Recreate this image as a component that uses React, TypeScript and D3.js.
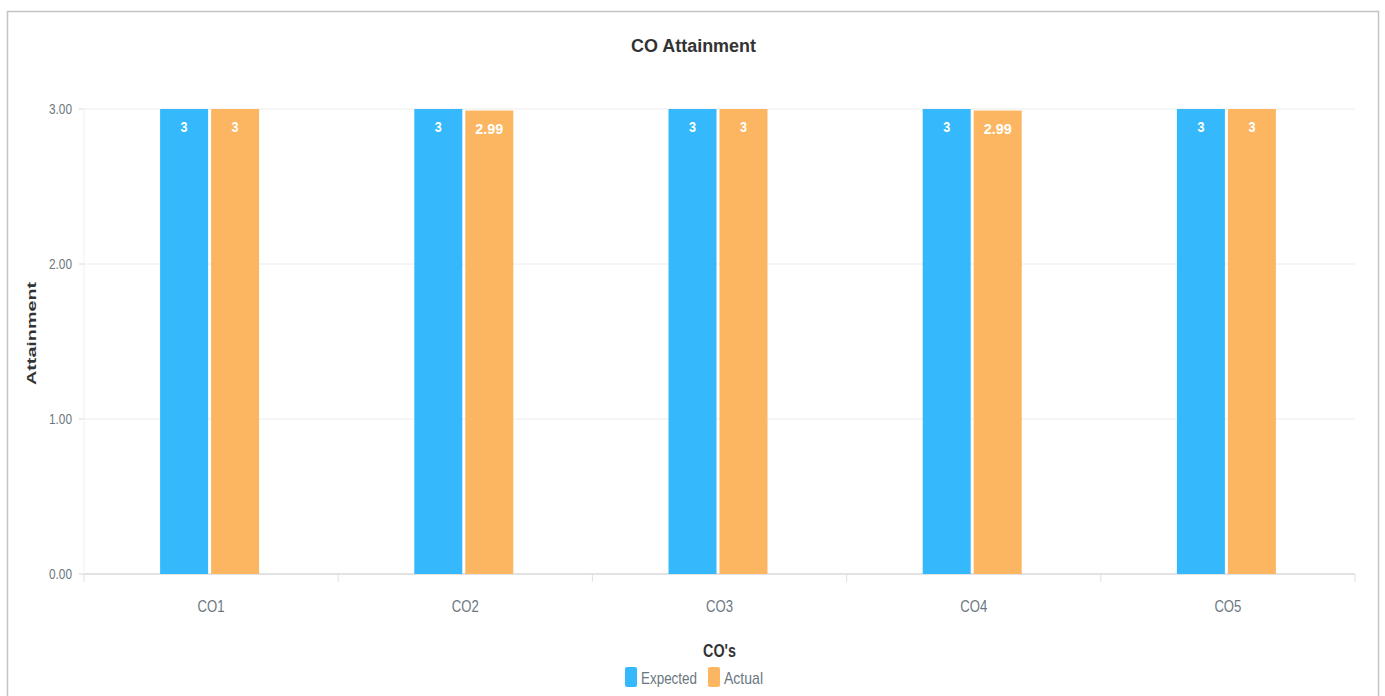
import React from "react";
import * as d3 from "d3";

const categories = ["CO1", "CO2", "CO3", "CO4", "CO5"];
const expected = [3, 3, 3, 3, 3];
const actual = [3, 2.99, 3, 2.99, 3];
const yTicks = [0, 1, 2, 3];
const seriesNames = ["Expected", "Actual"];
const seriesColors = ["#36b9fc", "#fcb661"];

const W = 1385, H = 696;
const L = 84, R = 1355, T = 109, B = 574;
const FONT = "'Liberation Sans', Arial, sans-serif";

export default function App() {
  const x = d3.scaleBand<string>().domain(categories).range([L, R]).paddingInner(0).paddingOuter(0);
  const y = d3.scaleLinear().domain([0, 3]).range([B, T]);
  const bw = 48;
  const gap = 3;
  const series = [expected, actual];
  const labelLen = (s: string) => (s.length === 1 ? 7 : 28);
  return (
    <svg width={W} height={H} style={{ position: "absolute", left: 0, top: 0, background: "#fff" }}>
      <rect x={7.5} y={11.5} width={1371} height={700} fill="#fff" stroke="#c4c4c4" strokeWidth={1.5} />
      <text x={631} y={52} textLength={125} lengthAdjust="spacingAndGlyphs" fontFamily={FONT} fontSize={18} fontWeight="bold" fill="#333">CO Attainment</text>
      {yTicks.map((t) => (
        <g key={t}>
          <line x1={L} x2={R} y1={y(t)} y2={y(t)} stroke={t === 0 ? "#d8d8d8" : "#ececec"} strokeWidth={t === 0 ? 1.5 : 1} />
          <line x1={L - 5} x2={L} y1={y(t)} y2={y(t)} stroke="#d8d8d8" />
          <text x={49} y={y(t) + 5} textLength={23} lengthAdjust="spacingAndGlyphs" fontFamily={FONT} fontSize={14} fill="#6b7780">{t.toFixed(2)}</text>
        </g>
      ))}
      <line x1={L} x2={L} y1={T} y2={B} stroke="#f0f0f0" />
      {categories.map((c, i) => {
        const cx = (x(c) as number) + x.bandwidth() / 2 - 1.5;
        return (
          <g key={c}>
            {series.map((s, k) => {
              const bx = k === 0 ? cx - gap / 2 - bw : cx + gap / 2;
              const v = s[i];
              const lbl = String(v);
              const len = labelLen(lbl);
              return (
                <g key={k}>
                  <rect x={bx} y={y(v)} width={bw} height={B - y(v)} fill={seriesColors[k]} />
                  <text x={bx + bw / 2 - len / 2} y={y(v) + 23} textLength={len} lengthAdjust="spacingAndGlyphs" fontFamily={FONT} fontSize={15} fontWeight="bold" fill="#fff">{lbl}</text>
                </g>
              );
            })}
            <text x={cx + 1.5 - 13.5} y={612} textLength={27} lengthAdjust="spacingAndGlyphs" fontFamily={FONT} fontSize={16} fill="#6b7780">{c}</text>
          </g>
        );
      })}
      {[...categories.map((c) => x(c) as number), R].map((px, i) => (
        <line key={i} x1={px} x2={px} y1={B} y2={B + 8} stroke="#e0e0e0" />
      ))}
      <text x={36} y={385} transform="rotate(-90 36 385)" textLength={103} lengthAdjust="spacingAndGlyphs" fontFamily={FONT} fontSize={13} fontWeight="bold" fill="#333">Attainment</text>
      <text x={703} y={657} textLength={33} lengthAdjust="spacingAndGlyphs" fontFamily={FONT} fontSize={18} fontWeight="bold" fill="#333">CO's</text>
      {seriesNames.map((n, k) => {
        const lx = k === 0 ? 625 : 708;
        const tl = k === 0 ? 56 : 39;
        return (
          <g key={n}>
            <rect x={lx} y={667} width={12} height={20} rx={2} fill={seriesColors[k]} />
            <text x={lx + 16} y={684} textLength={tl} lengthAdjust="spacingAndGlyphs" fontFamily={FONT} fontSize={17} fill="#6b7780">{n}</text>
          </g>
        );
      })}
    </svg>
  );
}
